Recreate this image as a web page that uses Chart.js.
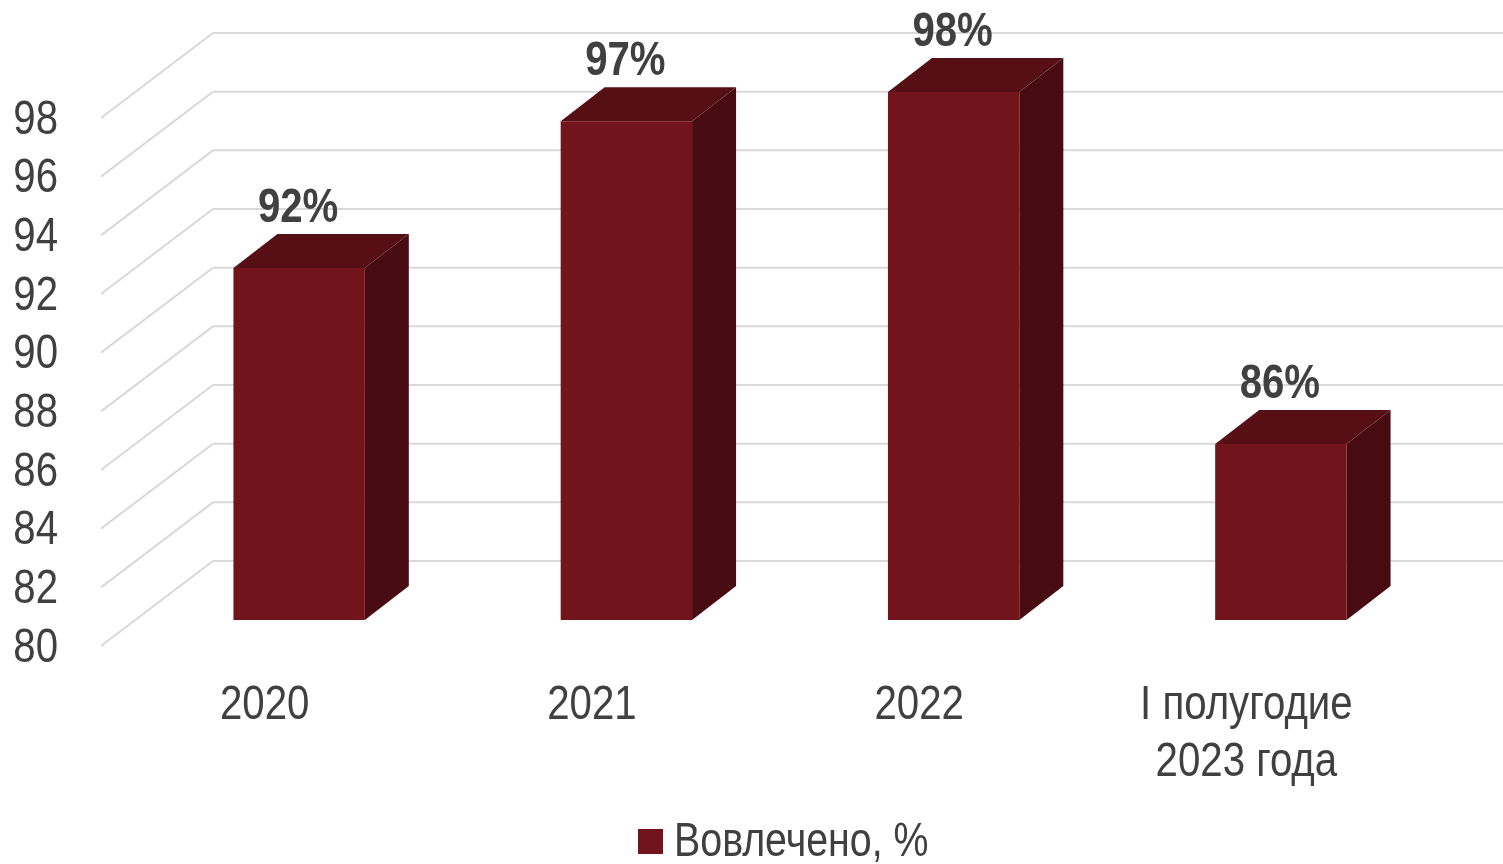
<!DOCTYPE html>
<html><head><meta charset="utf-8">
<style>html,body{margin:0;padding:0;background:#fff}#w{width:1503px;height:864px;position:relative;overflow:hidden}canvas{display:block}</style>
<script src="https://cdn.jsdelivr.net/npm/chart.js@4"></script>
</head><body><div id="w"><canvas id="c" width="1503" height="864"></canvas></div>
<script>
const categories = [['2020'], ['2021'], ['2022'], ['I полугодие', '2023 года']];
const seriesName = 'Вовлечено, %';
const involved = [92, 97, 98, 86];
const yTicks = [80, 82, 84, 86, 88, 90, 92, 94, 96, 98];
const FONT = '"Liberation Sans",Arial,sans-serif';
const FS = 49, NARROW = 0.82, TEXT_DROP = 2;
const GRID = '#d9d9d9', FRONT = '#72141c', TOP = '#570f16', SIDE = '#480b11', TXT = '#404040';
const WALL = {dx: 112, dy: -85}, BAR = {dx: 34.5, dy: -26}, DEPTH = {dx: 44, dy: -34};

// The reference uses a narrow face; draw every label condensed about its own anchor.
const canvas = document.getElementById('c');
const c2d = canvas.getContext('2d');
const rawFill = c2d.fillText.bind(c2d), rawMeasure = c2d.measureText.bind(c2d);
c2d.fillText = function (t, x, y) {
  c2d.save(); c2d.translate(x, y + TEXT_DROP); c2d.scale(NARROW, 1); rawFill(t, 0, 0); c2d.restore();
};
c2d.measureText = function (t) { return {width: rawMeasure(t).width * NARROW}; };

const threeD = {
  id: 'threeD',
  beforeDatasetsDraw(chart) {
    const {ctx, scales: {x, y}} = chart;
    ctx.save();
    ctx.strokeStyle = GRID; ctx.lineWidth = 2;
    yTicks.forEach(v => {
      const py = y.getPixelForValue(v);
      ctx.beginPath();
      ctx.moveTo(x.left, py);
      ctx.lineTo(x.left + WALL.dx, py + WALL.dy);
      ctx.lineTo(x.right + WALL.dx, py + WALL.dy);
      ctx.stroke();
    });
    ctx.restore();
    ctx.save();
    ctx.translate(BAR.dx, BAR.dy);
    chart.getDatasetMeta(0).data.forEach(b => {
      const l = b.x - b.width / 2, r = b.x + b.width / 2, t = b.y, bt = b.base;
      ctx.fillStyle = SIDE;
      ctx.beginPath();
      ctx.moveTo(r, t); ctx.lineTo(r + DEPTH.dx, t + DEPTH.dy);
      ctx.lineTo(r + DEPTH.dx, bt + DEPTH.dy); ctx.lineTo(r, bt); ctx.closePath(); ctx.fill();
      ctx.fillStyle = TOP;
      ctx.beginPath();
      ctx.moveTo(l, t); ctx.lineTo(l + DEPTH.dx, t + DEPTH.dy);
      ctx.lineTo(r + DEPTH.dx, t + DEPTH.dy); ctx.lineTo(r, t); ctx.closePath(); ctx.fill();
    });
    ctx.restore();
  },
  beforeDatasetDraw(chart) { chart.ctx.save(); chart.ctx.translate(BAR.dx, BAR.dy); },
  afterDatasetDraw(chart) { chart.ctx.restore(); },
  afterDatasetsDraw(chart) {
    const {ctx} = chart;
    ctx.save();
    ctx.font = 'bold ' + FS + 'px ' + FONT;
    ctx.fillStyle = TXT; ctx.textAlign = 'center'; ctx.textBaseline = 'middle';
    chart.getDatasetMeta(0).data.forEach((b, i) => {
      ctx.fillText(involved[i] + '%', b.x + BAR.dx - 1, b.y + BAR.dy - 61.5);
    });
    // legend
    const ds = chart.data.datasets[0];
    ctx.fillStyle = ds.backgroundColor;
    ctx.fillRect(638, 829, 25, 25);
    ctx.font = '48px ' + FONT;
    ctx.fillStyle = TXT; ctx.textAlign = 'left';
    ctx.fillText(ds.label, 674, 841);
    ctx.restore();
  }
};

new Chart(canvas, {
  type: 'bar',
  data: {labels: categories, datasets: [{label: seriesName, data: involved, base: 80, backgroundColor: FRONT,
    barPercentage: 0.5, categoryPercentage: 0.803, borderWidth: 0, clip: false}]},
  plugins: [threeD],
  options: {
    responsive: false, animation: false,
    layout: {padding: {left: 0, right: 93, top: 118, bottom: 0}},
    plugins: {tooltip: {enabled: false}, legend: {display: false}},
    scales: {
      x: {grid: {display: false}, border: {display: false},
        ticks: {font: {family: FONT, size: FS, lineHeight: 1.163}, color: TXT, maxRotation: 0, autoSkip: false, padding: 21},
        afterFit(s) { s.height = 218; }},
      y: {min: 80, max: 98, grid: {display: false}, border: {display: false},
        afterBuildTicks(s) { s.ticks = yTicks.map(v => ({value: v})); },
        ticks: {font: {family: FONT, size: FS}, color: TXT, padding: 35, autoSkip: false},
        afterFit(s) { s.width = 101; }}
    }
  }
});
</script></body></html>
